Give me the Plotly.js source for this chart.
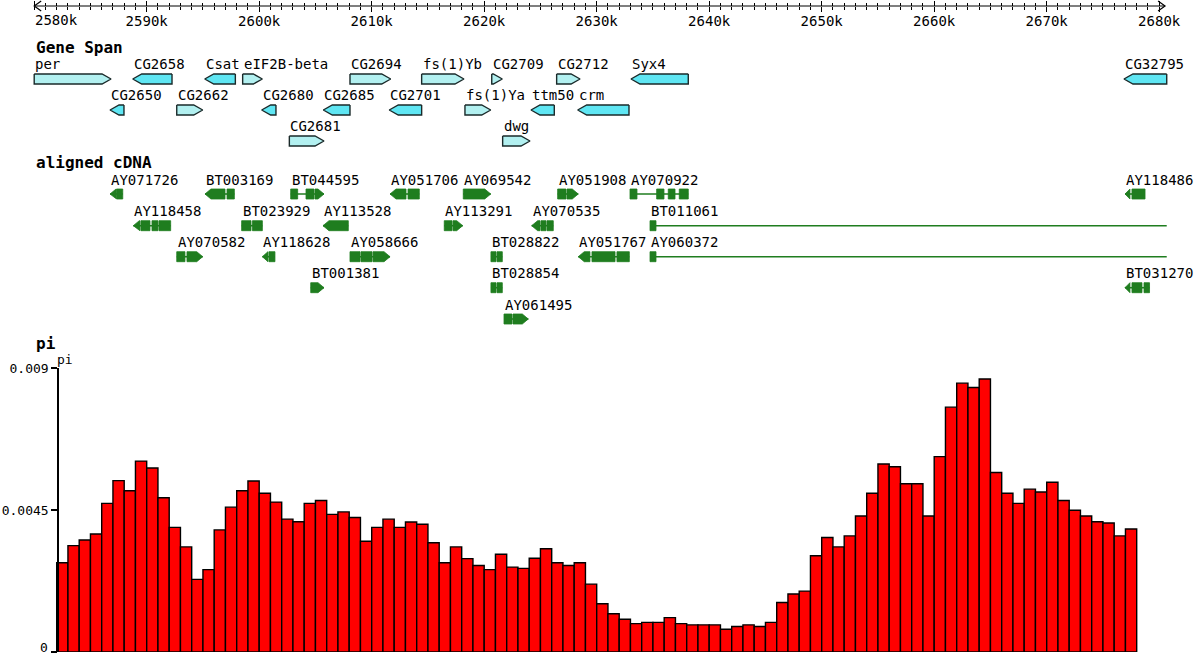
<!DOCTYPE html>
<html>
<head>
<meta charset="utf-8">
<script src="https://cdn.plot.ly/plotly-3.0.1.min.js"></script>
<style>html,body{margin:0;padding:0;background:#fff;}#chart{width:1200px;height:657px;}</style>
</head>
<body>
<div id="chart"></div>
<script>
// ---------- DATA (positions in kb) ----------
const rulerTicks = [2580, 2590, 2600, 2610, 2620, 2630, 2640, 2650, 2660, 2670, 2680];
const rulerLabels = ['2580k','2590k','2600k','2610k','2620k','2630k','2640k','2650k','2660k','2670k','2680k'];

const geneNames  = ['per','CG2658','Csat','eIF2B-beta','CG2694','fs(1)Yb','CG2709','CG2712','Syx4','CG32795',
                    'CG2650','CG2662','CG2680','CG2685','CG2701','fs(1)Ya','ttm50','crm','CG2681','dwg'];
const geneStart  = [2580.00,2588.76,2595.16,2598.53,2608.07,2614.44,2620.67,2626.44,2633.05,2676.87,
                    2586.74,2592.67,2600.22,2605.70,2611.56,2618.29,2624.16,2628.31,2602.68,2621.64];
const geneEnd    = [2586.83,2592.25,2597.88,2600.28,2611.69,2618.20,2621.61,2628.52,2638.14,2680.67,
                    2587.98,2594.98,2601.49,2608.07,2614.44,2620.58,2626.23,2632.87,2605.76,2624.07];
const geneStrand = ['+','-','-','+','+','+','+','+','-','-',
                    '-','+','-','-','-','+','-','-','+','+'];
const geneRow    = [0,0,0,0,0,0,0,0,0,0, 1,1,1,1,1,1,1,1, 2,2];

const cdnaNames  = ['AY071726','BT003169','BT044595','AY051706','AY069542','AY051908','AY070922','AY118486',
                    'AY118458','BT023929','AY113528','AY113291','AY070535','BT011061',
                    'AY070582','AY118628','AY058666','BT028822','AY051767','AY060372',
                    'BT001381','BT028854','BT031270',
                    'AY061495'];
const cdnaRow    = [0,0,0,0,0,0,0,0, 1,1,1,1,1,1, 2,2,2,2,2,2, 3,3,3, 4];
const cdnaStrand = ['-','-','+','-','+','+','','-',
                    '-','','-','+','-','',
                    '+','-','+','','-','',
                    '+','','-',
                    '+'];
const cdnaExons  = [
  [[2586.74,2587.32],[2587.36,2587.87]],
  [[2595.18,2596.96],[2597.14,2597.79]],
  [[2602.80,2603.42],[2604.16,2604.87],[2604.96,2605.76]],
  [[2611.63,2613.05],[2613.23,2614.23]],
  [[2618.14,2620.58]],
  [[2626.53,2627.27],[2627.36,2628.36]],
  [[2632.96,2633.58],[2635.33,2635.98],[2636.36,2636.96],[2637.34,2638.14]],
  [[2676.96,2677.40],[2677.58,2678.74]],
  [[2588.81,2589.40],[2589.49,2590.29],[2590.47,2591.00],[2591.09,2592.13]],
  [[2598.44,2599.27],[2599.40,2600.28]],
  [[2605.67,2607.92]],
  [[2616.45,2617.14],[2617.23,2618.09]],
  [[2624.22,2624.96],[2625.05,2625.49],[2625.58,2626.14]],
  [[2634.74,2635.27],[2680.67,2680.67]],
  [[2592.67,2593.40],[2593.58,2594.98]],
  [[2600.28,2600.78],[2600.87,2601.40]],
  [[2608.07,2608.96],[2609.05,2610.03],[2610.12,2611.63]],
  [[2620.60,2621.05],[2621.14,2621.61]],
  [[2628.36,2629.40],[2629.58,2631.63],[2631.80,2632.90]],
  [[2634.74,2635.27],[2680.67,2680.67]],
  [[2604.58,2605.76]],
  [[2620.60,2621.05],[2621.14,2621.61]],
  [[2676.96,2677.40],[2677.58,2678.47],[2678.65,2679.14]],
  [[2621.76,2622.47],[2622.56,2623.92]]
];

const piWindowStart = 2582;   // kb
const piWindowSize = 1;       // kb
const piValues = [
  0.00283,0.00337,0.00355,0.00374,0.00471,0.00543,0.00511,0.00605,0.00583,0.00489,
  0.00395,0.00333,0.00230,0.00261,0.00387,0.00459,0.00511,0.00542,0.00503,0.00475,
  0.00421,0.00413,0.00471,0.00480,0.00436,0.00444,0.00426,0.00351,0.00395,0.00421,
  0.00395,0.00412,0.00405,0.00346,0.00283,0.00333,0.00296,0.00274,0.00261,0.00310,
  0.00269,0.00265,0.00297,0.00327,0.00283,0.00274,0.00283,0.00215,0.00153,0.00121,
  0.00104,0.00090,0.00094,0.00094,0.00109,0.00090,0.00086,0.00086,0.00086,0.00072,
  0.00081,0.00086,0.00081,0.00094,0.00157,0.00184,0.00193,0.00305,0.00363,0.00333,
  0.00368,0.00431,0.00503,0.00596,0.00587,0.00533,0.00533,0.00431,0.00619,0.00776,
  0.00852,0.00838,0.00865,0.00569,0.00503,0.00471,0.00516,0.00507,0.00538,0.00480,
  0.00449,0.00431,0.00413,0.00409,0.00368,0.00390
];
const piTicks = [0, 0.0045, 0.009];
const piTickLabels = ['0', '0.0045', '0.009'];

// ---------- STYLE / LAYOUT CONSTANTS ----------
const W = 1200, H = 657;
const XR = [2576.96, 2683.627];
const kbPerPx = (XR[1] - XR[0]) / W;
const MONO = '"DejaVu Sans Mono", "Liberation Mono", monospace';
const rulerY = 6;
const geneRowY = [79, 110, 141];
const cdnaRowY = [194, 225.7, 256.7, 287.7, 319];
const geneH = 5, cdnaH = 5;
const geneArrow = 9 * kbPerPx, cdnaArrow = 6 * kbPerPx;
const FWD = '#b2f0f0', REV = '#5fe6f3', GREEN = '#1f7d1f';
const piAxisPx = 57.3;

function poly(s, e, strand, yc, h, a, xs, ys) {
  if (e - s <= 0) return;
  const aa = Math.min(a, e - s);
  if (strand === '+') {
    xs.push(s, e - aa, e, e - aa, s, s, null);
    ys.push(yc - h, yc - h, yc, yc + h, yc + h, yc - h, null);
  } else if (strand === '-') {
    xs.push(e, s + aa, s, s + aa, e, e, null);
    ys.push(yc - h, yc - h, yc, yc + h, yc + h, yc - h, null);
  } else {
    xs.push(s, e, e, s, s, null);
    ys.push(yc - h, yc - h, yc + h, yc + h, yc - h, null);
  }
}

const traces = [];
const annotations = [];

// gene glyphs
const fx = [], fy = [], rx = [], ry = [];
geneNames.forEach((n, i) => {
  const yc = geneRowY[geneRow[i]];
  if (geneStrand[i] === '+') poly(geneStart[i], geneEnd[i], '+', yc, geneH, geneArrow, fx, fy);
  else poly(geneStart[i], geneEnd[i], '-', yc, geneH, geneArrow, rx, ry);
  annotations.push({x: geneStart[i], y: yc - 15, xref: 'x', yref: 'y', text: n, showarrow: false,
    xanchor: 'left', yanchor: 'middle', borderpad: 0, font: {family: MONO, size: 14, color: '#000'}});
});
traces.push({type: 'scatter', mode: 'lines', x: fx, y: fy, fill: 'toself', fillcolor: FWD,
  line: {color: '#1a2a2a', width: 1.4}, xaxis: 'x', yaxis: 'y', hoverinfo: 'skip', showlegend: false});
traces.push({type: 'scatter', mode: 'lines', x: rx, y: ry, fill: 'toself', fillcolor: REV,
  line: {color: '#1a2a2a', width: 1.4}, xaxis: 'x', yaxis: 'y', hoverinfo: 'skip', showlegend: false});

// cDNA glyphs
const lx = [], ly = [], ex = [], ey = [];
cdnaNames.forEach((n, i) => {
  const yc = cdnaRowY[cdnaRow[i]];
  const exs = cdnaExons[i];
  lx.push(exs[0][0], exs[exs.length - 1][1], null);
  ly.push(yc, yc, null);
  exs.forEach((seg, j) => {
    let st = '';
    if (cdnaStrand[i] === '+' && j === exs.length - 1) st = '+';
    if (cdnaStrand[i] === '-' && j === 0) st = '-';
    poly(seg[0], seg[1], st, yc, cdnaH, cdnaArrow, ex, ey);
  });
  annotations.push({x: exs[0][0], y: yc - 14.5, xref: 'x', yref: 'y', text: n, showarrow: false,
    xanchor: 'left', yanchor: 'middle', borderpad: 0, font: {family: MONO, size: 14, color: '#000'}});
});
traces.push({type: 'scatter', mode: 'lines', x: lx, y: ly, line: {color: GREEN, width: 1.6},
  xaxis: 'x', yaxis: 'y', hoverinfo: 'skip', showlegend: false});
traces.push({type: 'scatter', mode: 'lines', x: ex, y: ey, fill: 'toself', fillcolor: GREEN,
  line: {color: GREEN, width: 0.8}, xaxis: 'x', yaxis: 'y', hoverinfo: 'skip', showlegend: false});

// ruler line with arrowheads
const first = rulerTicks[0], last = rulerTicks[rulerTicks.length - 1];
const ah = 7 * kbPerPx;
traces.push({type: 'scatter', mode: 'lines',
  x: [first + ah, first, first + ah, null, first, last + 0.52, null, last + 0.52 - ah, last + 0.52, last + 0.52 - ah],
  y: [rulerY - 5, rulerY, rulerY + 5, null, rulerY, rulerY, null, rulerY - 5, rulerY, rulerY + 5],
  line: {color: '#000', width: 1.2}, xaxis: 'x', yaxis: 'y', hoverinfo: 'skip', showlegend: false});
// invisible trace to activate the upper tick axis
traces.push({type: 'scatter', mode: 'markers', x: [first], y: [-50], marker: {opacity: 0},
  xaxis: 'x2', yaxis: 'y', hoverinfo: 'skip', showlegend: false});

// pi bars
const piX = piValues.map((v, i) => piWindowStart + piWindowSize * (i + 0.5));
traces.push({type: 'bar', x: piX, y: piValues, width: piWindowSize, xaxis: 'x', yaxis: 'y2',
  marker: {color: '#ff0000', line: {color: '#000', width: 1.4}}, hoverinfo: 'skip', showlegend: false});

// section titles
[['Gene Span', 47], ['aligned cDNA', 162.5], ['pi', 343]].forEach(t => {
  annotations.push({x: 35 / W, y: t[1], xref: 'paper', yref: 'y', text: '<b>' + t[0] + '</b>', showarrow: false,
    xanchor: 'left', yanchor: 'middle', borderpad: 0, font: {family: MONO, size: 16, color: '#000'}});
});
annotations.push({x: 56 / W, y: 359, xref: 'paper', yref: 'y', text: 'pi', showarrow: false,
  xanchor: 'left', yanchor: 'middle', borderpad: 0, font: {family: MONO, size: 13, color: '#000'}});

// the first ruler label starts at its tick rather than being centred on it
annotations.push({x: first, y: 20, xref: 'x', yref: 'y', text: rulerLabels[0], showarrow: false,
  xanchor: 'left', yanchor: 'middle', borderpad: 0, font: {family: MONO, size: 14, color: '#000'}});
const rulerText = rulerLabels.map((t, i) => i === 0 ? '' : t);

// the "0" pi label sits just above the page edge so it stays fully visible
annotations.push({x: (piAxisPx - 8) / W, y: piTicks[0], xref: 'paper', yref: 'y2', text: piTickLabels[0], showarrow: false,
  xanchor: 'right', yanchor: 'bottom', borderpad: 0, yshift: -4, font: {family: MONO, size: 13, color: '#000'}});
const piText = piTickLabels.map((t, i) => i === 0 ? '' : t);

const minorVals = [];
for (let k = first; k <= last; k += 1) minorVals.push(k);

const rulerPos = 1 - rulerY / H;
const layout = {
  width: W, height: H, margin: {l: 0, r: 0, t: 0, b: 0, pad: 0},
  paper_bgcolor: '#fff', plot_bgcolor: 'rgba(0,0,0,0)', showlegend: false, bargap: 0,
  xaxis: {range: XR, domain: [0, 1], anchor: 'free', position: rulerPos, side: 'bottom',
    showline: false, showgrid: false, zeroline: false, fixedrange: true,
    tickmode: 'array', tickvals: rulerTicks, ticktext: rulerText, ticks: 'outside', ticklen: 5,
    tickwidth: 1.2, tickcolor: '#000', ticklabelstandoff: -3, ticklabeloverflow: 'allow',
    tickfont: {family: MONO, size: 14, color: '#000'},
    minor: {tickmode: 'array', tickvals: minorVals, ticks: 'outside', ticklen: 3, tickwidth: 1, tickcolor: '#000', showgrid: false}},
  xaxis2: {range: XR, overlaying: 'x', anchor: 'free', position: rulerPos, side: 'top',
    showline: false, showgrid: false, zeroline: false, fixedrange: true, showticklabels: false,
    tickmode: 'array', tickvals: rulerTicks, ticks: 'outside', ticklen: 5, tickwidth: 1.2, tickcolor: '#000',
    minor: {tickmode: 'array', tickvals: minorVals, ticks: 'outside', ticklen: 3, tickwidth: 1, tickcolor: '#000', showgrid: false}},
  yaxis: {range: [H, 0], domain: [0, 1], visible: false, fixedrange: true},
  yaxis2: {range: [0, 0.009], domain: [(H - 652) / H, (H - 368) / H], anchor: 'free', position: piAxisPx / W,
    showline: true, linecolor: '#000', linewidth: 1.5, showgrid: false, zeroline: false, fixedrange: true,
    tickmode: 'array', tickvals: piTicks, ticktext: piText, ticks: 'outside', ticklen: 6,
    tickcolor: '#000', tickwidth: 1.2, ticklabeloverflow: 'allow', tickfont: {family: MONO, size: 13, color: '#000'}},
  annotations: annotations
};

Plotly.newPlot('chart', traces, layout, {staticPlot: true, displayModeBar: false});
</script>
</body>
</html>
